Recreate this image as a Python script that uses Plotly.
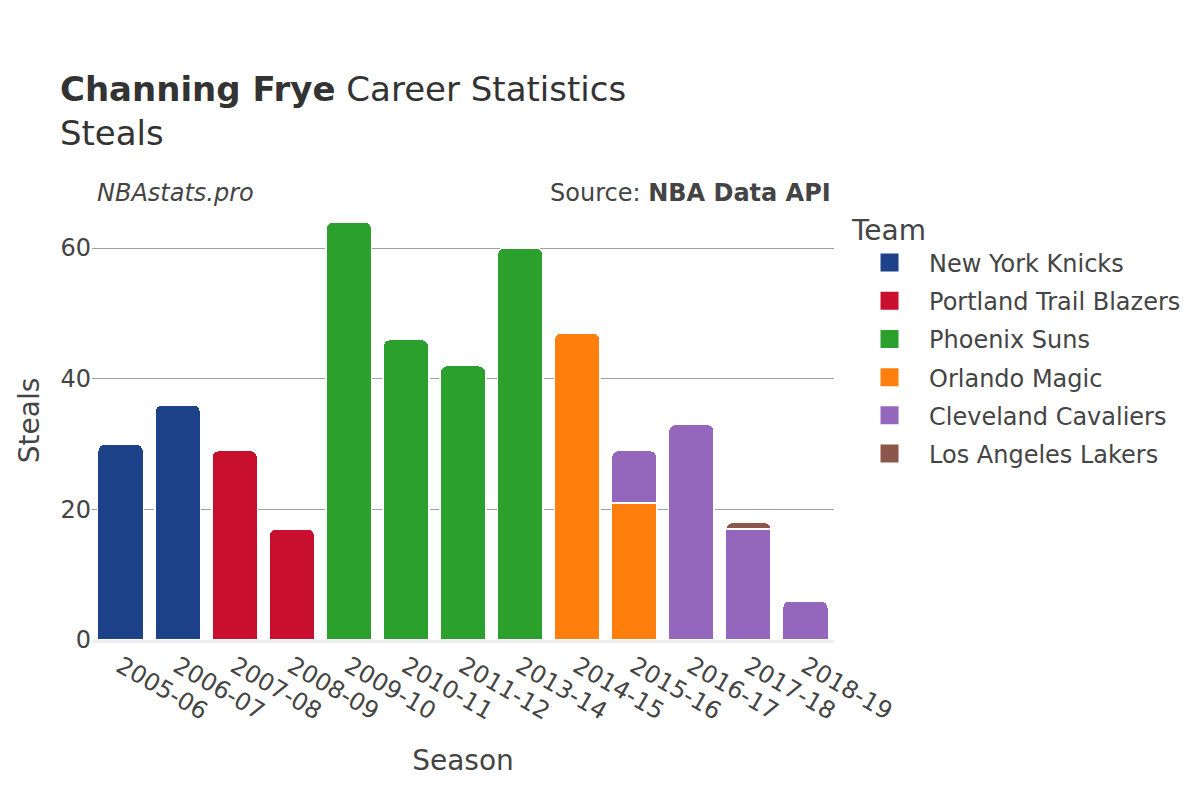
import plotly.graph_objects as go

seasons = ["2005-06", "2006-07", "2007-08", "2008-09", "2009-10", "2010-11", "2011-12",
           "2013-14", "2014-15", "2015-16", "2016-17", "2017-18", "2018-19"]

teams = ["New York Knicks", "Portland Trail Blazers", "Phoenix Suns", "Orlando Magic",
         "Cleveland Cavaliers", "Los Angeles Lakers"]
colors = ["#1d428a", "#c8102e", "#2ca02c", "#ff7f0e", "#9467bd", "#8c564b"]

knicks_seasons = ["2005-06", "2006-07"]
knicks_steals = [30, 36]
blazers_seasons = ["2007-08", "2008-09"]
blazers_steals = [29, 17]
suns_seasons = ["2009-10", "2010-11", "2011-12", "2013-14"]
suns_steals = [64, 46, 42, 60]
magic_seasons = ["2014-15", "2015-16"]
magic_steals = [47, 21]
cavs_seasons = ["2015-16", "2016-17", "2017-18", "2018-19"]
cavs_steals = [8, 33, 17, 6]
lakers_seasons = ["2017-18"]
lakers_steals = [1]

series = [
    (knicks_seasons, knicks_steals),
    (blazers_seasons, blazers_steals),
    (suns_seasons, suns_steals),
    (magic_seasons, magic_steals),
    (cavs_seasons, cavs_steals),
    (lakers_seasons, lakers_steals),
]

font_family = "DejaVu Sans"

fig = go.Figure()
for i, (team, color, (xs, ys)) in enumerate(zip(teams, colors, series)):
    fig.add_trace(go.Bar(
        x=xs, y=ys, name=team, legendgroup=f"g{i}", showlegend=False,
        marker=dict(color=color, line=dict(color="white", width=1.5)),
    ))
    # legend entry with a larger swatch
    fig.add_trace(go.Scatter(
        x=[None], y=[None], mode="markers", name=team, legendgroup=f"g{i}",
        marker=dict(symbol="square", size=16, color=color,
                    line=dict(color=color, width=2)),
    ))

fig.update_layout(
    barmode="stack",
    barcornerradius=7,
    width=1200, height=800,
    paper_bgcolor="white", plot_bgcolor="white",
    font=dict(family=font_family, color="#444", size=24),
    margin=dict(l=84, r=374, t=193, b=168, autoexpand=False),
    title=dict(
        text="<b>Channing Frye</b> Career Statistics<br>Steals",
        x=0.0433, xanchor="left", y=0.884, yanchor="top",
        font=dict(size=34, color="#333", family=font_family),
    ),
    xaxis=dict(
        type="category",
        title=dict(text="Season", font=dict(size=28), standoff=26),
        categoryorder="array", categoryarray=seasons,
        tickangle=30, tickfont=dict(size=24),
        showline=True, linecolor="#eee", linewidth=3,
        automargin=False,
    ),
    yaxis=dict(
        title=dict(text="Steals", font=dict(size=28), standoff=12),
        tickfont=dict(size=24),
        gridcolor="#a0a0a0", gridwidth=1,
        zeroline=False,
        tickvals=[0, 20, 40, 60],
        range=[0, 67.2],
        automargin=False,
    ),
    legend=dict(
        title=dict(text="Team", font=dict(size=28)),
        font=dict(size=24),
        x=1.0216, xanchor="left", y=0.993, yanchor="top",
        traceorder="grouped",
        tracegroupgap=4,
        itemwidth=69,
    ),
    bargap=0.2,
)

fig.add_annotation(text="<i>NBAstats.pro</i>", xref="paper", yref="paper",
                   x=0.004, y=0.982, xanchor="left", yanchor="bottom",
                   showarrow=False, font=dict(size=24, color="#444"))
fig.add_annotation(text="Source: <b>NBA Data API</b>", xref="paper", yref="paper",
                   x=0.999, y=0.982, xanchor="right", yanchor="bottom",
                   showarrow=False, font=dict(size=24, color="#444"))

fig.write_html("out.html")
